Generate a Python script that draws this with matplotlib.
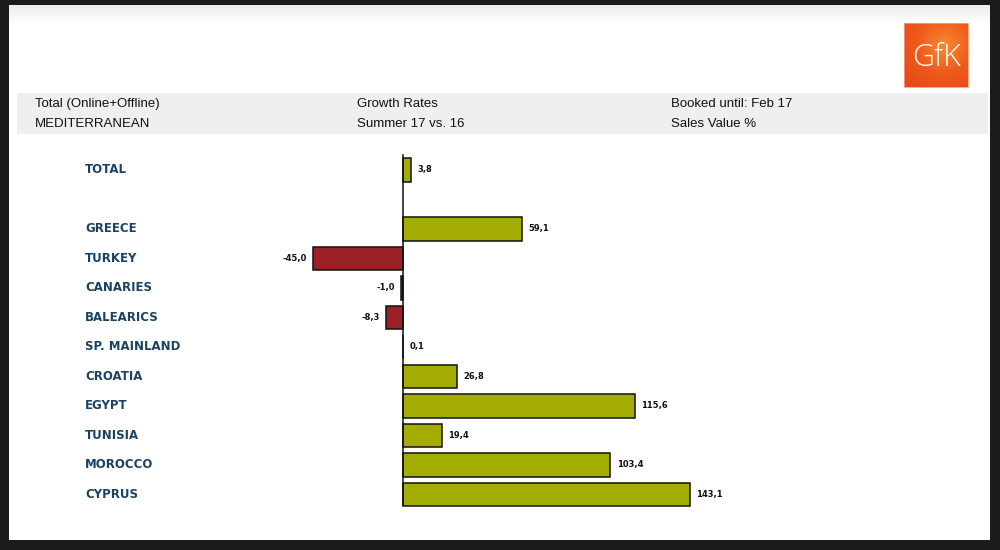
import numpy as np
import matplotlib.pyplot as plt
from matplotlib.patches import Rectangle
from matplotlib.colors import LinearSegmentedColormap
from matplotlib.transforms import blended_transform_factory

# data
countries = ['TOTAL', '', 'GREECE', 'TURKEY', 'CANARIES', 'BALEARICS', 'SP. MAINLAND',
             'CROATIA', 'EGYPT', 'TUNISIA', 'MOROCCO', 'CYPRUS']
growth = [3.8, None, 59.1, -45.0, -1.0, -8.3, 0.1, 26.8, 115.6, 19.4, 103.4, 143.1]

header_left = ['Total (Online+Offline)', 'MEDITERRANEAN']
header_mid = ['Growth Rates', 'Summer 17 vs. 16']
header_right = ['Booked until: Feb 17', 'Sales Value %']

GREEN = '#a3ac00'
RED = '#9c2127'
LABEL = '#1b4262'

fig = plt.figure(figsize=(10, 5.5), dpi=100, facecolor='#1b1b1b')

# page background, header band and logo in pixel coords
bg = fig.add_axes([0, 0, 1, 1])
bg.set_xlim(0, 1000)
bg.set_ylim(550, 0)
bg.axis('off')
bg.add_patch(Rectangle((9, 5), 981, 535, facecolor='white', edgecolor='none'))
# faint shading at the top of the page
shade = np.linspace(0, 1, 30).reshape(-1, 1)
bg.imshow(shade, cmap=LinearSegmentedColormap.from_list('s', ['#ededed', '#ffffff']),
          extent=(9, 990, 24, 5), aspect='auto', zorder=1)
bg.add_patch(Rectangle((17, 93), 971, 41, facecolor='#efefef', edgecolor='none', zorder=2))

# logo with a soft orange gradient
yy, xx = np.mgrid[0:64, 0:64]
glow = np.clip(((xx - 40) ** 2 + (yy - 22) ** 2) ** 0.5 / 55, 0, 1)
logo_cmap = LinearSegmentedColormap.from_list('gfk', ['#f8892f', '#f05a1c', '#e8461a'])
bg.imshow(glow, cmap=logo_cmap, extent=(904, 968, 87, 23), aspect='auto', zorder=3)
bg.add_patch(Rectangle((904, 23), 64, 64, facecolor='none', edgecolor='#f6a27c', lw=0.6, zorder=4))
bg.text(936, 58, 'GfK', color='white', fontsize=22, ha='center', va='center',
        family='Open Sans', fontweight='light', zorder=5)
bg.set_xlim(0, 1000)
bg.set_ylim(550, 0)

for x, lines in zip([35, 357, 671], [header_left, header_mid, header_right]):
    for i, t in enumerate(lines):
        bg.text(x, 104 + 20 * i, t, fontsize=9.5, family='Liberation Sans',
                color='#111111', va='center', ha='left', zorder=5)

# the bar chart
ax = fig.add_axes([0.06, 1 - 515 / 550, 0.9, 365 / 550], zorder=2)
ax.patch.set_visible(False)
for s in ax.spines.values():
    s.set_visible(False)
ax.set_xticks([])
ax.set_yticks([])
ax.set_xlim((60 - 403) / 2.006, (960 - 403) / 2.006)
ax.set_ylim((515 - 170) / 29.5, (150 - 170) / 29.5)

trans = blended_transform_factory(fig.transFigure, ax.transData)
for i, (name, v) in enumerate(zip(countries, growth)):
    if v is None:
        continue
    color = GREEN if v >= 0 else RED
    ax.barh(i, v, height=0.78, color=color, edgecolor='#111111', linewidth=1.1, zorder=3)
    ax.text(0.085, i, name, transform=trans, fontsize=8.5, fontweight='bold',
            color=LABEL, va='center', ha='left', family='DejaVu Sans')
    label = ('%.1f' % v).replace('.', ',')
    if v >= 0:
        ax.text(v + 3.2, i, label, fontsize=6, fontweight='bold', va='center', ha='left',
                color='#111111')
    else:
        ax.text(v - 3.0, i, label, fontsize=6, fontweight='bold', va='center', ha='right',
                color='#111111')

ax.axvline(0, ymin=(515 - 505) / 365, ymax=(515 - 155) / 365, color='#111111',
           linewidth=1.1, zorder=4)

fig.savefig('out.png', dpi=100, facecolor=fig.get_facecolor())
